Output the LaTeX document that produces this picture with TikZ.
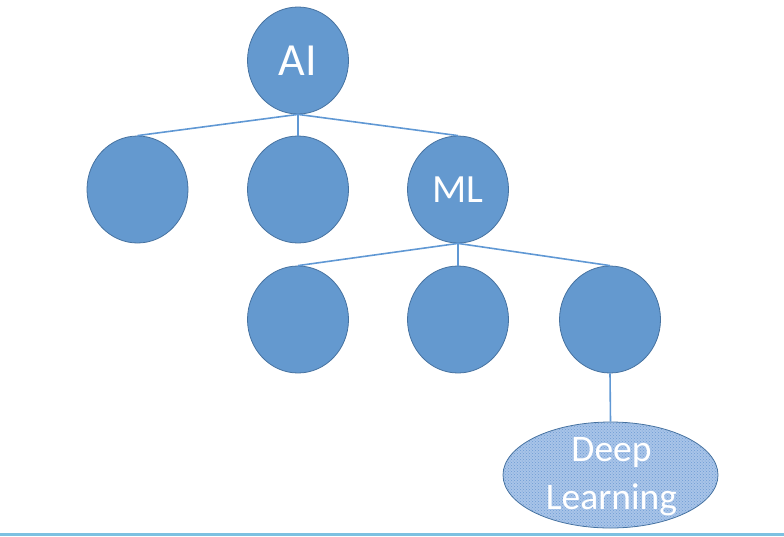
\documentclass[tikz,border=0pt]{standalone}
\usepackage{fontspec}
\setmainfont{Carlito}
\usetikzlibrary{shapes.geometric,patterns}
\definecolor{nodefill}{RGB}{100,153,207}
\definecolor{nodeedge}{RGB}{70,114,160}
\definecolor{linkcol}{RGB}{96,152,212}
\definecolor{dlfill}{RGB}{168,196,232}
\definecolor{dldots}{RGB}{110,155,212}
\definecolor{baseline}{RGB}{125,193,225}
\tikzset{
  treenode/.style={ellipse, minimum width=101pt, minimum height=107pt, inner sep=0pt,
    fill=nodefill, draw=nodeedge, line width=0.8pt, text=white},
  link/.style={draw=linkcol, line width=1.6pt},
}
\begin{document}
\begin{tikzpicture}[x=1pt,y=-1pt]
\useasboundingbox (0,0) rectangle (784,536);
\node[treenode, font=\fontsize{46}{50}\selectfont] (ai) at (298,60.5) {AI};
\node[treenode] (c1) at (137.5,189.5) {};
\node[treenode] (c2) at (298,189.5) {};
\node[treenode, font=\fontsize{40}{44}\selectfont] (ml) at (458,189.5) {ML};
\node[treenode] (d1) at (298,319.5) {};
\node[treenode] (d2) at (458,319.5) {};
\node[treenode] (d3) at (610,319.5) {};
\node[ellipse, minimum width=215pt, minimum height=106pt, inner sep=0pt,
  fill=dlfill, draw=nodeedge, line width=0.8pt] (dlbg) at (610.5,475) {};
\fill[pattern=crosshatch dots, pattern color=dldots] (610.5,475) ellipse [x radius=107pt, y radius=52.5pt];
\node[text=white, align=center, inner sep=0pt, font=\fontsize{37.5}{48}\selectfont] (dl) at (611.5,477) {Deep\\Learning};
\draw[link] (ai.south) -- (c1.north);
\draw[link] (ai.south) -- (c2.north);
\draw[link] (ai.south) -- (ml.north);
\draw[link] (ml.south) -- (d1.north);
\draw[link] (ml.south) -- (d2.north);
\draw[link] (ml.south) -- (d3.north);
\draw[link] (d3.south) -- (dlbg.north);
\coordinate (bl) at (0,534);
\coordinate (br) at (784,534);
\draw[draw=baseline, line width=3pt] (bl) -- (br);
\end{tikzpicture}
\end{document}
